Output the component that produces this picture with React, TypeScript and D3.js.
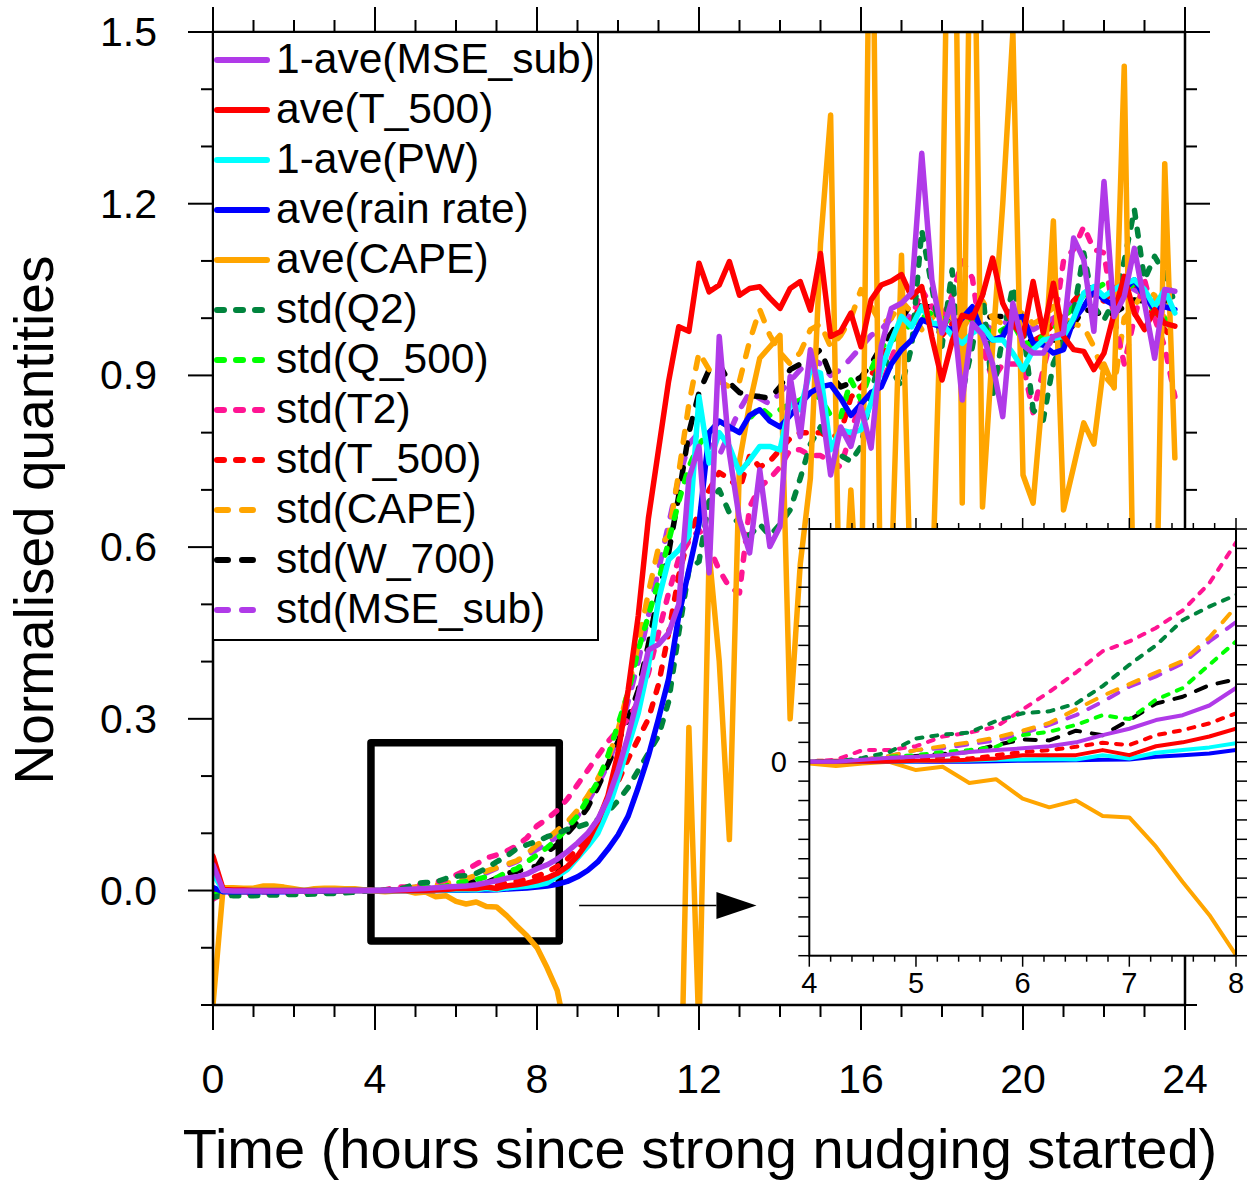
import React, { useEffect, useRef } from 'react';
import * as d3 from 'd3';

const W = 1250;
const H = 1181;

// time axis: one value every 15 minutes, 0 .. 23.75 h
const hours = d3.range(96).map(i => i * 0.25);

// 1-ave(MSE_sub)
const mseAve = [
  0.045, 0.000, -0.001, -0.001, -0.001, -0.001, -0.001, -0.001,
  -0.001, -0.001, -0.001, 0.000, 0.000, 0.000, 0.000, 0.000,
  0.000, 0.000, 0.001, 0.002, 0.0026, 0.0034, 0.005, 0.006,
  0.0069, 0.008, 0.010, 0.0137, 0.017, 0.0215, 0.024, 0.029,
  0.038, 0.045, 0.055, 0.068, 0.083, 0.100, 0.124, 0.160,
  0.21, 0.27, 0.34, 0.42, 0.43, 0.45, 0.50, 0.72,
  0.776, 0.555, 0.968, 0.764, 0.648, 0.59, 0.735, 0.601,
  0.636, 0.898, 0.793, 0.945, 0.86, 0.726, 0.81, 0.776,
  0.845, 0.773, 0.951, 1.017, 1.026, 1.044, 1.288, 1.067,
  0.974, 1.032, 0.857, 0.991, 0.971, 0.92, 0.828, 1.026,
  0.953, 0.939, 0.939, 0.968, 0.974, 1.14, 1.102, 0.977,
  1.239, 1.003, 1.038, 1.122, 1.026, 0.93, 1.05, 1.047,
];

// ave(T_500)
const t500Ave = [
  0.060, 0.002, 0.001, 0.001, 0.000, 0.000, 0.000, 0.000,
  0.000, 0.000, 0.000, 0.000, 0.000, 0.000, 0.000, 0.000,
  0.000, 0.000, 0.000, 0.000, 0.0005, 0.0005, 0.001, 0.0017,
  0.0034, 0.0034, 0.0034, 0.006, 0.0034, 0.008, 0.010, 0.013,
  0.017, 0.022, 0.030, 0.042, 0.060, 0.085, 0.120, 0.165,
  0.24, 0.35, 0.48, 0.65, 0.77, 0.89, 0.985, 0.977,
  1.096, 1.046, 1.058, 1.099, 1.040, 1.052, 1.055, 1.035,
  1.017, 1.052, 1.064, 1.014, 1.113, 0.968, 0.977, 1.009,
  0.950, 1.032, 1.058, 1.065, 1.076, 1.037, 1.055, 0.967,
  0.892, 0.960, 1.005, 1.000, 1.040, 1.105, 1.026, 0.990,
  0.968, 1.064, 0.974, 1.061, 0.968, 0.945, 0.942, 0.910,
  0.939, 1.009, 1.073, 1.009, 0.980, 1.015, 0.991, 0.986,
];

// 1-ave(PW)
const pwAve = [
  0.030, 0.000, 0.000, 0.000, 0.000, 0.000, 0.000, 0.000,
  0.000, 0.000, 0.000, 0.000, 0.000, 0.000, 0.000, 0.000,
  0.000, 0.000, 0.000, 0.000, 0.0003, 0.0005, 0.0007, 0.001,
  0.0012, 0.0014, 0.0012, 0.0034, 0.0017, 0.0046, 0.006, 0.0074,
  0.0095, 0.013, 0.025, 0.037, 0.057, 0.077, 0.100, 0.140,
  0.194, 0.252, 0.310, 0.392, 0.508, 0.578, 0.595, 0.620,
  0.863, 0.747, 0.800, 0.776, 0.730, 0.752, 0.776, 0.776,
  0.770, 0.852, 0.840, 0.910, 0.904, 0.770, 0.805, 0.800,
  0.805, 0.852, 0.910, 0.960, 1.003, 0.985, 1.020, 0.991,
  0.990, 0.970, 0.956, 0.974, 0.985, 0.962, 0.962, 0.939,
  0.910, 0.945, 0.962, 0.965, 0.968, 1.000, 1.044, 1.055,
  1.038, 1.050, 1.060, 1.067, 1.050, 1.020, 1.050, 1.009,
];

// ave(rain rate)
const rainAve = [
  0.005, -0.002, -0.002, -0.002, -0.002, -0.002, -0.002, -0.002,
  -0.001, -0.001, -0.001, -0.001, -0.001, 0.000, 0.000, 0.000,
  0.000, 0.000, 0.000, 0.000, 0.000, 0.000, 0.000, 0.0003,
  0.0005, 0.0006, 0.0008, 0.001, 0.0012, 0.0026, 0.0034, 0.0043,
  0.006, 0.008, 0.011, 0.016, 0.024, 0.035, 0.050, 0.072,
  0.097, 0.130, 0.180, 0.235, 0.300, 0.370, 0.480, 0.560,
  0.640, 0.800, 0.820, 0.810, 0.800, 0.830, 0.840, 0.820,
  0.810, 0.830, 0.850, 0.870, 0.880, 0.884, 0.860, 0.830,
  0.850, 0.870, 0.880, 0.920, 0.945, 0.962, 0.997, 0.990,
  0.985, 0.980, 1.000, 1.020, 0.974, 0.962, 0.968, 1.000,
  1.003, 0.956, 0.953, 0.939, 0.945, 0.997, 1.020, 1.050,
  1.032, 1.023, 1.050, 1.067, 1.038, 1.015, 1.020, 1.015,
];

// ave(CAPE)
const capeAve = [
  -0.200, 0.005, 0.005, 0.004, 0.004, 0.008, 0.008, 0.006,
  0.003, 0.000, 0.003, 0.004, 0.004, 0.003, 0.003, 0.001,
  -0.0009, -0.0022, -0.0009, 0.000, -0.0043, -0.0026, -0.011, -0.009,
  -0.019, -0.0235, -0.020, -0.028, -0.0287, -0.0438, -0.062, -0.079,
  -0.0997, -0.135, -0.175, -0.260, -0.330, -0.420, -0.500, -0.560,
  -0.620, -0.680, -0.740, -0.780, -0.760, -0.680, -0.550, 0.285,
  -0.250, 0.590, 0.400, 0.089, 0.750, 0.850, 0.930, 0.950,
  0.970, 0.300, 0.570, 0.720, 1.130, 1.355, 0.350, 0.700,
  0.400, 2.000, 0.350, 0.550, 1.110, 0.450, 0.250, 0.500,
  1.100, 2.200, 0.677, 2.000, 0.670, 0.950, 1.200, 1.500,
  0.726, 0.677, 0.880, 1.170, 0.665, 0.740, 0.817, 0.780,
  0.920, 0.878, 1.440, 0.400, 0.550, 0.300, 1.270, 0.756,
];

// std(Q2)
const q2Std = [
  -0.012, -0.008, -0.009, -0.009, -0.009, -0.008, -0.008, -0.007,
  -0.007, -0.007, -0.006, -0.005, -0.005, -0.004, -0.003, -0.001,
  0.000, 0.000, 0.002, 0.005, 0.012, 0.014, 0.015, 0.021,
  0.025, 0.026, 0.030, 0.039, 0.050, 0.060, 0.073, 0.080,
  0.086, 0.094, 0.100, 0.107, 0.111, 0.117, 0.124, 0.137,
  0.157, 0.180, 0.210, 0.240, 0.270, 0.330, 0.450, 0.560,
  0.575, 0.680, 0.700, 0.660, 0.640, 0.620, 0.640, 0.620,
  0.640, 0.665, 0.720, 0.780, 0.810, 0.780, 0.760, 0.750,
  0.776, 0.869, 0.939, 0.910, 0.881, 0.950, 1.154, 1.055,
  0.951, 1.084, 0.869, 0.950, 1.050, 0.863, 0.968, 1.055,
  0.985, 0.840, 0.822, 0.921, 0.960, 1.009, 1.114, 1.020,
  0.997, 1.032, 1.100, 1.190, 1.067, 1.108, 1.078, 1.026,
];

// std(Q_500)
const q500Std = [
  -0.008, -0.004, -0.004, -0.004, -0.004, -0.003, -0.003, -0.003,
  -0.003, -0.003, -0.002, -0.002, -0.002, -0.001, -0.001, 0.000,
  0.000, 0.000, 0.001, 0.0026, 0.0034, 0.005, 0.006, 0.0077,
  0.0137, 0.0155, 0.019, 0.024, 0.022, 0.032, 0.038, 0.050,
  0.062, 0.075, 0.090, 0.110, 0.130, 0.160, 0.190, 0.235,
  0.290, 0.345, 0.420, 0.480, 0.540, 0.610, 0.680, 0.740,
  0.780, 0.800, 0.820, 0.810, 0.800, 0.825, 0.845, 0.830,
  0.840, 0.850, 0.857, 0.870, 0.860, 0.830, 0.828, 0.892,
  0.857, 0.910, 0.950, 0.960, 0.974, 0.990, 1.000, 1.010,
  1.000, 0.990, 0.980, 1.000, 0.990, 0.970, 0.980, 0.990,
  0.960, 0.950, 0.970, 0.980, 1.000, 1.020, 1.040, 1.050,
  1.060, 1.040, 1.050, 1.060, 1.040, 1.010, 1.000, 0.971,
];

// std(T2)
const t2Std = [
  -0.015, -0.005, -0.006, -0.006, -0.006, -0.005, -0.005, -0.005,
  -0.004, -0.004, -0.004, -0.003, -0.003, -0.002, -0.001, 0.000,
  0.000, 0.001, 0.006, 0.006, 0.008, 0.013, 0.015, 0.018,
  0.027, 0.036, 0.046, 0.057, 0.062, 0.069, 0.078, 0.092,
  0.113, 0.125, 0.140, 0.160, 0.185, 0.210, 0.235, 0.260,
  0.280, 0.300, 0.330, 0.380, 0.450, 0.520, 0.580, 0.610,
  0.630, 0.600, 0.560, 0.530, 0.520, 0.670, 0.705, 0.720,
  0.740, 0.770, 0.770, 0.760, 0.760, 0.750, 0.740, 0.800,
  0.857, 0.870, 0.880, 0.930, 0.974, 1.000, 1.050, 1.020,
  1.000, 1.040, 1.100, 1.070, 0.950, 0.892, 0.920, 0.920,
  0.920, 0.835, 0.910, 0.980, 1.100, 1.120, 1.160, 1.120,
  1.114, 1.000, 0.920, 1.000, 1.067, 1.000, 0.950, 0.863,
];

// std(T_500)
const t500Std = [
  -0.004, -0.002, -0.002, -0.002, -0.002, -0.002, -0.002, -0.002,
  -0.001, -0.001, -0.001, -0.001, -0.001, 0.000, 0.000, 0.000,
  0.0005, 0.0005, 0.000, 0.001, 0.0015, 0.002, 0.0017, 0.0034,
  0.005, 0.006, 0.0077, 0.0098, 0.0086, 0.0137, 0.0163, 0.0198,
  0.025, 0.032, 0.042, 0.055, 0.072, 0.095, 0.125, 0.155,
  0.190, 0.230, 0.265, 0.300, 0.360, 0.450, 0.550, 0.620,
  0.660, 0.700, 0.730, 0.720, 0.700, 0.760, 0.740, 0.750,
  0.770, 0.790, 0.800, 0.800, 0.800, 0.790, 0.800, 0.862,
  0.880, 0.900, 0.930, 0.960, 0.980, 1.000, 1.020, 0.990,
  0.970, 0.990, 1.000, 1.010, 0.980, 0.960, 0.970, 0.990,
  0.980, 0.960, 0.970, 0.990, 1.000, 1.030, 1.050, 1.040,
  1.030, 1.050, 1.070, 1.060, 1.040, 1.000, 0.980, 0.960,
];

// std(CAPE)
const capeStd = [
  -0.004, -0.002, -0.002, -0.002, -0.002, -0.002, -0.002, -0.002,
  -0.001, -0.001, -0.001, -0.001, -0.001, 0.000, 0.000, 0.000,
  0.000, 0.000, 0.001, 0.003, 0.006, 0.008, 0.010, 0.0125,
  0.016, 0.020, 0.027, 0.034, 0.040, 0.046, 0.052, 0.064,
  0.080, 0.090, 0.105, 0.120, 0.140, 0.165, 0.195, 0.230,
  0.280, 0.350, 0.430, 0.520, 0.600, 0.620, 0.730, 0.850,
  0.940, 0.910, 0.890, 0.880, 0.890, 0.960, 1.015, 0.970,
  0.940, 0.920, 0.940, 0.980, 0.990, 0.950, 0.970, 1.000,
  1.050, 1.020, 0.990, 1.000, 1.030, 1.010, 0.980, 1.000,
  1.020, 1.000, 0.980, 1.010, 1.030, 1.000, 0.990, 1.000,
  1.010, 0.990, 1.000, 1.020, 1.000, 0.990, 0.985, 0.950,
  0.900, 0.880, 1.000, 1.020, 1.050, 1.040, 1.000, 0.980,
];

// std(W_700)
const w700Std = [
  0.000, 0.000, 0.000, 0.000, 0.000, 0.000, 0.000, 0.000,
  0.000, 0.000, 0.000, 0.000, 0.000, 0.000, 0.000, 0.000,
  0.000, 0.000, 0.001, 0.002, 0.003, 0.004, 0.005, 0.0086,
  0.0115, 0.011, 0.016, 0.0137, 0.0215, 0.030, 0.0335, 0.0395,
  0.0425, 0.068, 0.080, 0.100, 0.120, 0.145, 0.180, 0.220,
  0.260, 0.300, 0.350, 0.430, 0.520, 0.590, 0.690, 0.800,
  0.870, 0.910, 0.920, 0.887, 0.870, 0.865, 0.863, 0.860,
  0.880, 0.910, 0.920, 0.930, 0.945, 0.900, 0.880, 0.887,
  0.897, 0.920, 0.950, 0.974, 1.000, 1.026, 1.020, 1.020,
  1.010, 1.000, 0.997, 1.000, 1.000, 1.003, 1.003, 0.990,
  0.970, 0.956, 0.960, 0.962, 0.962, 0.990, 1.015, 1.012,
  1.005, 1.009, 1.020, 1.032, 1.030, 1.032, 1.030, 1.032,
];

// std(MSE_sub)
const mseStd = [
  -0.003, -0.002, -0.002, -0.002, -0.002, -0.002, -0.002, -0.002,
  -0.001, -0.001, -0.001, -0.001, -0.001, 0.000, 0.000, 0.000,
  0.000, 0.000, 0.001, 0.003, 0.006, 0.007, 0.009, 0.011,
  0.0146, 0.019, 0.024, 0.031, 0.0387, 0.044, 0.0507, 0.062,
  0.072, 0.082, 0.095, 0.110, 0.130, 0.155, 0.185, 0.220,
  0.270, 0.330, 0.400, 0.480, 0.560, 0.640, 0.720, 0.780,
  0.800, 0.780, 0.760, 0.800, 0.840, 0.870, 0.860, 0.850,
  0.870, 0.890, 0.910, 0.930, 0.920, 0.900, 0.910, 0.930,
  0.950, 0.970, 0.980, 1.000, 1.010, 1.000, 1.020, 1.000,
  0.990, 1.000, 1.010, 1.000, 0.990, 0.980, 0.990, 1.000,
  0.990, 0.980, 0.990, 1.000, 1.010, 1.030, 1.040, 1.050,
  1.040, 1.050, 1.060, 1.050, 1.040, 1.030, 1.040, 1.040,
];

const PURPLE = '#b03ae8';
const DKGREEN = '#00843d';

// legend order; drawn in reverse so the first entry ends on top
const series = [
  { name: '1-ave(MSE_sub)', color: PURPLE, dash: '', values: mseAve },
  { name: 'ave(T_500)', color: '#ff0000', dash: '', values: t500Ave },
  { name: '1-ave(PW)', color: '#00ffff', dash: '', values: pwAve },
  { name: 'ave(rain rate)', color: '#0000ff', dash: '', values: rainAve },
  { name: 'ave(CAPE)', color: '#ffa500', dash: '', values: capeAve },
  { name: 'std(Q2)', color: DKGREEN, dash: 'short', values: q2Std },
  { name: 'std(Q_500)', color: '#00ff00', dash: 'short', values: q500Std },
  { name: 'std(T2)', color: '#ff1493', dash: 'short', values: t2Std },
  { name: 'std(T_500)', color: '#ff0000', dash: 'short', values: t500Std },
  { name: 'std(CAPE)', color: '#ffa500', dash: 'long', values: capeStd },
  { name: 'std(W_700)', color: '#000000', dash: 'long', values: w700Std },
  { name: 'std(MSE_sub)', color: PURPLE, dash: 'long', values: mseStd },
];

const xMajor = [0, 4, 8, 12, 16, 20, 24];
const yMajor = [0.0, 0.3, 0.6, 0.9, 1.2, 1.5];
const insetLabels = [4, 5, 6, 7, 8];

// zoom window annotation (hours / normalised units)
const zoomBoxT = [3.9, 8.55];
const zoomBoxV = [-0.088, 0.258];
const arrowT = [9.04, 12.43, 13.42];
const arrowV = -0.026;

const FONT = '"Liberation Sans", Arial, Helvetica, sans-serif';

export default function App() {
  const svgRef = useRef<SVGSVGElement | null>(null);

  useEffect(() => {
    const svg = d3.select(svgRef.current);
    svg.selectAll('*').remove();

    const x = d3.scaleLinear().domain([0, 24]).range([213, 1185]);
    const y = d3.scaleLinear().domain([-0.2, 1.5]).range([1005, 32]);

    const xi = d3.scaleLinear().domain([4, 8]).range([809.3, 1236]);
    const yi = d3.scaleLinear().domain([-0.1, 0.12]).range([955.7, 529]);

    svg.append('rect').attr('width', W).attr('height', H).attr('fill', '#fff');

    const defs = svg.append('defs');
    defs.append('clipPath').attr('id', 'mainClip').append('rect')
      .attr('x', x(0)).attr('y', y(1.5))
      .attr('width', x(24) - x(0)).attr('height', y(-0.2) - y(1.5));
    defs.append('clipPath').attr('id', 'insetClip').append('rect')
      .attr('x', xi(4)).attr('y', yi(0.12))
      .attr('width', xi(8) - xi(4)).attr('height', yi(-0.1) - yi(0.12));

    // dash length excludes the round caps, so gaps are kept wide
    const dashFor = (d: string, w: number) => {
      if (d === 'short') return w > 4.5 ? '7,12' : '6,9';
      if (d === 'long') return w > 4.5 ? '11,14' : '11,12';
      return null;
    };

    // zoom box
    svg.append('rect')
      .attr('x', x(zoomBoxT[0])).attr('y', y(zoomBoxV[1]))
      .attr('width', x(zoomBoxT[1]) - x(zoomBoxT[0]))
      .attr('height', y(zoomBoxV[0]) - y(zoomBoxV[1]))
      .attr('fill', 'none').attr('stroke', '#000').attr('stroke-width', 7.5)
      .attr('stroke-linejoin', 'round');

    // main lines
    const line = d3.line<number>().x((_, i) => x(hours[i])).y(d => y(d));
    const gLines = svg.append('g').attr('clip-path', 'url(#mainClip)');
    [...series].reverse().forEach(s => {
      gLines.append('path')
        .attr('d', line(s.values))
        .attr('fill', 'none')
        .attr('stroke', s.color)
        .attr('stroke-width', 5.5)
        .attr('stroke-dasharray', dashFor(s.dash, 5.5))
        .attr('stroke-linecap', 'round')
        .attr('stroke-linejoin', 'round');
    });

    // main frame + ticks
    const axes = svg.append('g').attr('stroke', '#000').attr('stroke-width', 2);
    axes.append('rect')
      .attr('x', x(0)).attr('y', y(1.5))
      .attr('width', x(24) - x(0)).attr('height', y(-0.2) - y(1.5))
      .attr('fill', 'none').attr('stroke-width', 2.5);

    d3.range(0, 25).forEach(h => {
      const len = h % 4 === 0 ? 25 : 12;
      axes.append('line').attr('x1', x(h)).attr('x2', x(h)).attr('y1', y(-0.2)).attr('y2', y(-0.2) + len);
      axes.append('line').attr('x1', x(h)).attr('x2', x(h)).attr('y1', y(1.5)).attr('y2', y(1.5) - len);
    });
    d3.range(-2, 16).forEach(k => {
      const v = k / 10;
      const len = k % 3 === 0 ? 25 : 12;
      axes.append('line').attr('x1', x(0) - len).attr('x2', x(0)).attr('y1', y(v)).attr('y2', y(v));
      axes.append('line').attr('x1', x(24)).attr('x2', x(24) + len).attr('y1', y(v)).attr('y2', y(v));
    });

    const labels = svg.append('g').attr('font-family', FONT).attr('fill', '#000');
    yMajor.forEach(v => {
      labels.append('text').attr('x', 157).attr('y', y(v) + 14)
        .attr('text-anchor', 'end').attr('font-size', 41).text(d3.format('.1f')(v));
    });
    xMajor.forEach(h => {
      labels.append('text').attr('x', x(h)).attr('y', 1093)
        .attr('text-anchor', 'middle').attr('font-size', 41).text(h);
    });
    labels.append('text').attr('x', 700).attr('y', 1168)
      .attr('text-anchor', 'middle').attr('font-size', 56)
      .text('Time (hours since strong nudging started)');
    labels.append('text').attr('transform', 'translate(53,520) rotate(-90)')
      .attr('text-anchor', 'middle').attr('font-size', 55)
      .text('Normalised quantities');

    // arrow from the box to the inset
    svg.append('line')
      .attr('x1', x(arrowT[0])).attr('x2', x(arrowT[1]))
      .attr('y1', y(arrowV)).attr('y2', y(arrowV))
      .attr('stroke', '#000').attr('stroke-width', 1.5);
    const ax = x(arrowT[1]);
    const tip = x(arrowT[2]);
    const ay = y(arrowV);
    svg.append('path')
      .attr('d', `M${ax},${ay - 13.5}L${tip},${ay}L${ax},${ay + 13.5}Z`)
      .attr('fill', '#000');

    // legend
    const lg = svg.append('g');
    lg.append('rect').attr('x', x(0)).attr('y', y(1.5))
      .attr('width', 598 - x(0)).attr('height', 640 - y(1.5))
      .attr('fill', '#fff').attr('stroke', '#000').attr('stroke-width', 2);
    series.forEach((s, i) => {
      const ry = 60 + i * 50;
      lg.append('line').attr('x1', 217).attr('x2', 267).attr('y1', ry).attr('y2', ry)
        .attr('stroke', s.color).attr('stroke-width', 6)
        .attr('stroke-dasharray', dashFor(s.dash, 6))
        .attr('stroke-linecap', 'round');
      lg.append('text').attr('x', 276).attr('y', ry + 13)
        .attr('font-family', FONT).attr('font-size', 42.5).text(s.name);
    });

    // inset
    const ig = svg.append('g');
    ig.append('rect').attr('x', xi(4)).attr('y', yi(0.12))
      .attr('width', xi(8) - xi(4)).attr('height', yi(-0.1) - yi(0.12))
      .attr('fill', '#fff');
    const iline = d3.line<number>().x((_, i) => xi(hours[i])).y(d => yi(d));
    const iLines = ig.append('g').attr('clip-path', 'url(#insetClip)');
    [...series].reverse().forEach(s => {
      iLines.append('path')
        .attr('d', iline(s.values))
        .attr('fill', 'none')
        .attr('stroke', s.color)
        .attr('stroke-width', 4)
        .attr('stroke-dasharray', dashFor(s.dash, 4))
        .attr('stroke-linecap', 'round')
        .attr('stroke-linejoin', 'round');
    });
    const iax = ig.append('g').attr('stroke', '#000').attr('stroke-width', 1.5);
    iax.append('rect').attr('x', xi(4)).attr('y', yi(0.12))
      .attr('width', xi(8) - xi(4)).attr('height', yi(-0.1) - yi(0.12))
      .attr('fill', 'none').attr('stroke-width', 2);
    d3.range(20, 41).forEach(k => {
      const h = k / 5;
      const len = k % 5 === 0 ? 11 : 6;
      iax.append('line').attr('x1', xi(h)).attr('x2', xi(h)).attr('y1', yi(-0.1)).attr('y2', yi(-0.1) + len);
      iax.append('line').attr('x1', xi(h)).attr('x2', xi(h)).attr('y1', yi(0.12)).attr('y2', yi(0.12) - len);
    });
    d3.range(-10, 13).forEach(k => {
      const v = k / 100;
      iax.append('line').attr('x1', xi(4) - 11).attr('x2', xi(4)).attr('y1', yi(v)).attr('y2', yi(v));
      iax.append('line').attr('x1', xi(8)).attr('x2', xi(8) + 11).attr('y1', yi(v)).attr('y2', yi(v));
    });
    insetLabels.forEach(h => {
      ig.append('text').attr('x', xi(h)).attr('y', 993)
        .attr('text-anchor', 'middle').attr('font-family', FONT).attr('font-size', 29).text(h);
    });
    ig.append('text').attr('x', 787).attr('y', yi(0) + 10)
      .attr('text-anchor', 'end').attr('font-family', FONT).attr('font-size', 29).text('0');
  }, []);

  return (
    <svg
      ref={svgRef}
      width={W}
      height={H}
      style={{ position: 'absolute', left: 0, top: 0, display: 'block' }}
    />
  );
}
